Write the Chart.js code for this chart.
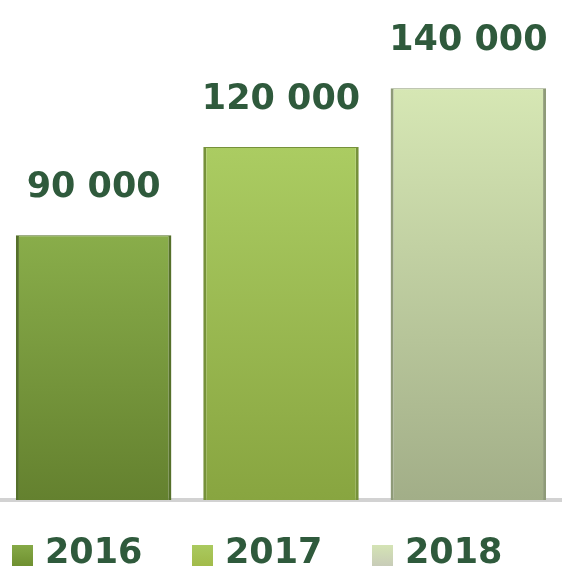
<!DOCTYPE html>
<html>
<head>
<meta charset="utf-8">
<script src="https://cdn.jsdelivr.net/npm/chart.js@4/dist/chart.umd.min.js"></script>
<style>
  html, body { margin: 0; padding: 0; background: #fff; }
  #wrap { width: 562px; height: 567px; position: relative; }
</style>
</head>
<body>
<div id="wrap"><canvas id="bars"></canvas></div>
<script>
// --- chart data ---
const years = ['2016', '2017', '2018'];
const amounts = [90000, 120000, 140000];
const valueLabels = ['90 000', '120 000', '140 000'];

// gradient stops per bar (top, bottom) and edge colour
const topColors = ['#89ad4a', '#abcc62', '#d6e7b4'];
const bottomColors = ['#64812f', '#88a540', '#a2ae88'];
const edgeColors = ['#55702a', '#76913a', '#8e9a78'];
const legendColors = ['#6f9030', '#a2bb4a', '#c8ccb8'];

const textColor = '#2f5a3c';
const textFont = 'bold 35px "DejaVu Sans", sans-serif';

function barGradient(ctx) {
    const chart = ctx.chart;
    const area = chart.chartArea;
    const yScale = chart.scales.y;
    if (!area || !yScale) return topColors[ctx.dataIndex];
    const top = yScale.getPixelForValue(amounts[ctx.dataIndex]);
    if (!isFinite(top) || !isFinite(area.bottom)) return topColors[ctx.dataIndex];
    const g = chart.ctx.createLinearGradient(0, top, 0, area.bottom);
    g.addColorStop(0, topColors[ctx.dataIndex]);
    g.addColorStop(1, bottomColors[ctx.dataIndex]);
    return g;
}

// draws the value above each bar and the legend under the axis
const labelsPlugin = {
    id: 'labelsPlugin',
    afterDatasetsDraw(chart) {
        const ctx = chart.ctx;
        const meta = chart.getDatasetMeta(0);
        ctx.save();
        ctx.font = textFont;
        ctx.fillStyle = textColor;
        ctx.textAlign = 'center';
        ctx.textBaseline = 'alphabetic';
        meta.data.forEach((bar, i) => {
            ctx.fillText(valueLabels[i], bar.x, bar.y - 38);
        });

        // legend row, evenly spaced from the left edge
        const legendY = chart.chartArea.bottom + 63;
        const step = 180;
        const sq = 21;
        ctx.textAlign = 'left';
        years.forEach((yr, i) => {
            const startX = chart.chartArea.left + 12 + i * step;
            const g = ctx.createLinearGradient(0, legendY - sq, 0, legendY + 3);
            g.addColorStop(0, topColors[i]);
            g.addColorStop(1, legendColors[i]);
            ctx.fillStyle = g;
            ctx.fillRect(startX, legendY - sq + 3, sq, sq);
            ctx.fillStyle = textColor;
            ctx.fillText(yr, startX + sq + 12, legendY);
        });
        ctx.restore();
    }
};

const chartCanvas = document.getElementById('bars');
new Chart(chartCanvas.getContext('2d'), {
    type: 'bar',
    data: {
        labels: years,
        datasets: [{
            data: amounts,
            backgroundColor: barGradient,
            borderColor: edgeColors,
            borderWidth: { left: 3, right: 3, top: 1, bottom: 0 },
            borderSkipped: false,
            categoryPercentage: 1.0,
            barPercentage: 0.83
        }]
    },
    options: {
        responsive: true,
        maintainAspectRatio: false,
        animation: false,
        layout: { padding: { top: 0, bottom: 67, left: 0, right: 0 } },
        scales: {
            x: {
                ticks: { display: false },
                grid: { display: false, drawTicks: false },
                border: { color: '#d2d2d2', width: 4 }
            },
            y: {
                display: false,
                min: 0,
                max: 170000
            }
        },
        plugins: {
            legend: { display: false },
            tooltip: { enabled: false }
        }
    },
    plugins: [labelsPlugin]
});
</script>
</body>
</html>
